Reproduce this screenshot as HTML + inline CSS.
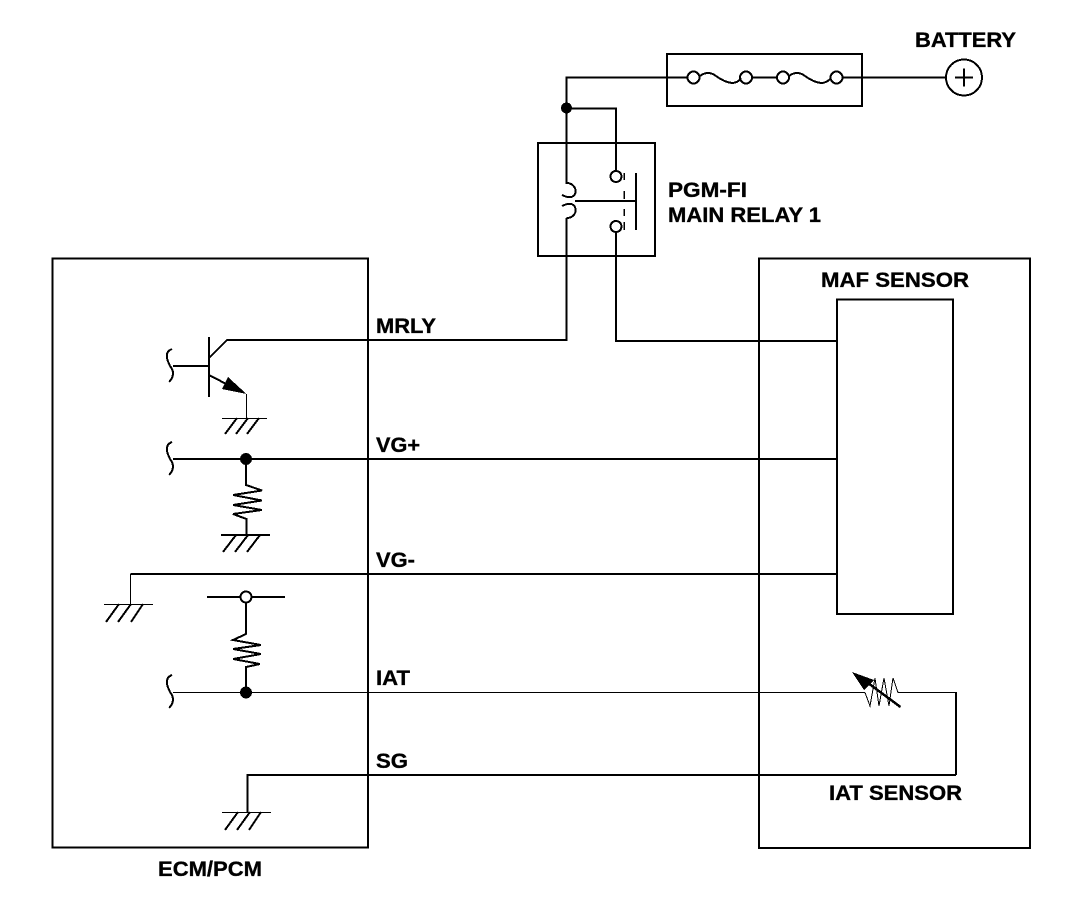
<!DOCTYPE html>
<html>
<head>
<meta charset="utf-8">
<style>
html,body{margin:0;padding:0;background:#fff;}
svg{display:block;}
text{font-family:"Liberation Sans",Arial,sans-serif;font-weight:bold;font-size:21px;fill:#000;stroke:#000;stroke-width:.35px;}
</style>
</head>
<body>
<svg width="1072" height="900" viewBox="0 0 1072 900" xmlns="http://www.w3.org/2000/svg">
<rect width="1072" height="900" fill="#fff"/>
<g fill="none" stroke="#000" stroke-width="2" shape-rendering="crispEdges">
  <!-- boxes -->
  <rect x="667" y="54" width="195" height="52"/>
  <rect x="538" y="143" width="117" height="113"/>
  <rect x="52.500" y="258.500" width="315.500" height="589"/>
  <rect x="759" y="258.500" width="271" height="589.500"/>
  <rect x="837" y="299.500" width="116" height="314.500"/>

  <!-- top wire & fuse -->
  <path d="M566.500 184V77.500H688"/>
  <path d="M752 77.500H777"/>
  <path d="M842 77.500H946"/>
  <path d="M700 76Q708 70 716 76T732 83Q738 83 741 78"/>
  <path d="M789 76Q797 70 805 76T821 83Q827 83 831 78"/>
  <circle cx="693.500" cy="77.500" r="6"/>
  <circle cx="746" cy="77.500" r="6"/>
  <circle cx="783" cy="77.500" r="6"/>
  <circle cx="836.500" cy="77.500" r="6"/>
  <circle cx="964" cy="77.500" r="18"/>
  <path d="M955 77.500H973M964 68.500V86.500"/>

  <!-- relay -->
  <path d="M566 108.500H616V171"/>
  <circle cx="616" cy="176.500" r="5.500"/>
  <circle cx="616" cy="226.500" r="5.500"/>
  <path d="M616 232V341H837"/>
  <path d="M636 173V230"/>
  <path d="M575 201H636"/>
  <path d="M624 173V180M624 191V199M624 209V216M624 222V230" stroke-width="1.500"/>
  <path d="M566.500 183C574 183 577 190 575 194C573 198 568 198 562 195"/>
  <path d="M562 206C568 203 573 203 575 207C577 212 574 218 566.500 218"/>
  <path d="M566.500 218V340H227L209 358"/>

  <!-- transistor -->
  <path d="M209 337V397"/>
  <path d="M173 366H209"/>
  <path d="M209 375L232 387"/>
  <path d="M246.500 394V418" stroke-width="1"/>
  <path d="M222 418.500H267" stroke-width="1"/>
  <path d="M225 434L237 418M236 434L248 418M247 434L259 418"/>
  <path d="M172 349C164 352 167 360 170 366C175 372 173 378 169 382"/>

  <!-- VG+ -->
  <path d="M173 459H837"/>
  <path d="M172 442C164 445 167 453 170 459C175 465 173 471 169 475"/>
  <path d="M246 459V485L262 490.500L233 495L262 500.500L233 505L262 510L233 514L246.500 519V535"/>
  <path d="M221 535H270"/>
  <path d="M223 552L236 535M235 552L248 535M247 552L260 535"/>

  <!-- VG- -->
  <path d="M837 574H130.500"/>
  <path d="M130.500 574V604" stroke-width="1"/>
  <path d="M104 604.500H153" stroke-width="1"/>
  <path d="M106 622L119 604M118 622L131 604M131 622L143 604"/>

  <!-- pull-up -->
  <path d="M207 597H240M252 597H285"/>
  <circle cx="246" cy="597" r="5.500"/>
  <path d="M246 603V634L233 640L261 645L233 649L261 654L233 659L260 664L246 667V692"/>

  <!-- IAT -->
  <path d="M173 692.500H865" stroke-width="1"/>
  <path d="M172 675C164 678 167 686 170 692C175 698 173 704 169 708"/>
  <path d="M865 692.500L870 706L875 678L879 706L884 678L889 706L893 678L898 692.500H956" stroke-width="1"/>
  <path d="M956 692V775"/>
  <path d="M956 775H247.500V812"/>
  <path d="M222 812.500H271" stroke-width="1"/>
  <path d="M225 830L238 812M237 830L250 812M249 830L261 812"/>
  <path d="M868 683L900.500 707" stroke-width="2.500"/>
</g>
<!-- filled -->
<g fill="#000" stroke="none" shape-rendering="crispEdges">
  <circle cx="566.500" cy="108" r="5.500"/>
  <circle cx="246" cy="459" r="6"/>
  <circle cx="246" cy="692.500" r="6"/>
  <path d="M246.500 394L222 389L228 377Z"/>
  <path d="M852 672L874 680L864 690Z"/>
</g>
<!-- labels -->
<text x="915" y="47" textLength="101" lengthAdjust="spacingAndGlyphs">BATTERY</text>
<text x="668" y="197" textLength="79" lengthAdjust="spacingAndGlyphs">PGM-FI</text>
<text x="668" y="222" textLength="153" lengthAdjust="spacingAndGlyphs">MAIN RELAY 1</text>
<text x="821" y="287" textLength="148" lengthAdjust="spacingAndGlyphs">MAF SENSOR</text>
<text x="376" y="333" textLength="60" lengthAdjust="spacingAndGlyphs">MRLY</text>
<text x="376" y="452" textLength="44" lengthAdjust="spacingAndGlyphs">VG+</text>
<text x="376" y="567" textLength="39" lengthAdjust="spacingAndGlyphs">VG-</text>
<text x="376" y="685" textLength="34" lengthAdjust="spacingAndGlyphs">IAT</text>
<text x="376" y="768" textLength="32" lengthAdjust="spacingAndGlyphs">SG</text>
<text x="829" y="800" textLength="133" lengthAdjust="spacingAndGlyphs">IAT SENSOR</text>
<text x="158" y="876" textLength="104" lengthAdjust="spacingAndGlyphs">ECM/PCM</text>
</svg>
</body>
</html>
